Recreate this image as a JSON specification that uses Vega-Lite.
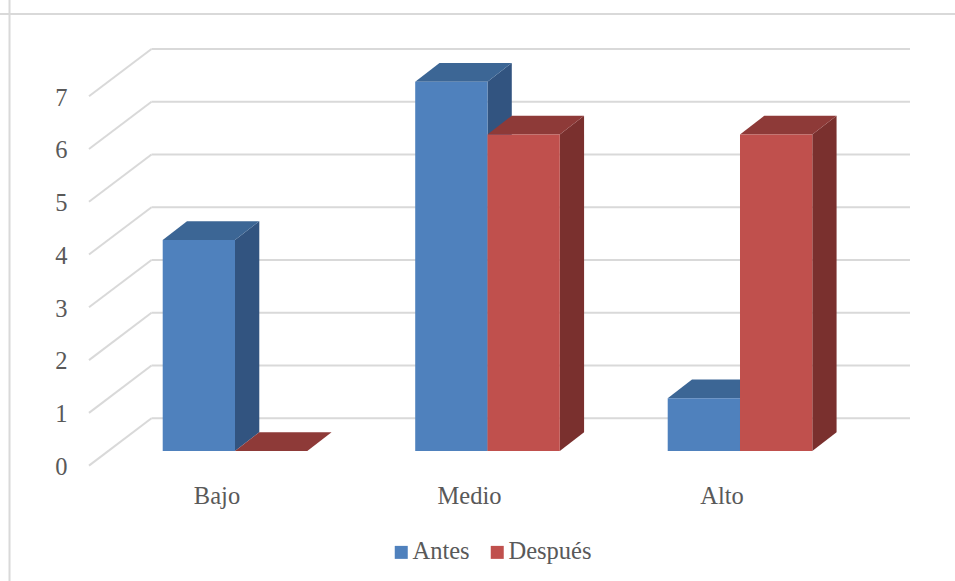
{
"$schema":"https://vega.github.io/schema/vega-lite/v6.json",
"width":955,"height":581,"padding":0,"autosize":{"type":"none"},
"background":"white",
"view":{"stroke":null},
"config":{"font":"Liberation Serif"},
"resolve":{"axis":{"x":"independent","y":"independent"}},
"data":{"values":[
{"categoria":"Bajo","serie":"Antes","valor":4},
{"categoria":"Bajo","serie":"Después","valor":0},
{"categoria":"Medio","serie":"Antes","valor":7},
{"categoria":"Medio","serie":"Después","valor":6},
{"categoria":"Alto","serie":"Antes","valor":1},
{"categoria":"Alto","serie":"Después","valor":6}
]},
"transform":[
{"calculate":"indexof(['Bajo','Medio','Alto'],datum.categoria)+(datum.serie==='Antes'?-0.2863:0)","as":"x0"},
{"calculate":"datum.x0+0.2863","as":"x1"}
],
"layer":[
{"data":{"values":[{"f":1}]},"mark":{"type":"rule","color":"#D9D9D9","strokeWidth":2},
 "encoding":{"x":{"datum":-0.893,"type":"quantitative","scale":{"domain":[-0.93069,2.85149],"nice":false,"zero":false},"axis":null}}},
{"data":{"values":[{"f":1}]},"mark":{"type":"rule","color":"#D9D9D9","strokeWidth":2},
 "encoding":{"y":{"datum":8.283,"type":"quantitative","scale":{"domain":[-2.46399,8.54814],"nice":false,"zero":false},"axis":null}}},
{"data":{"values":[{"v":0},{"v":1},{"v":2},{"v":3},{"v":4},{"v":5},{"v":6},{"v":7}]},
 "transform":[{"calculate":"datum.v+0.6198","as":"yb"},{"calculate":"datum.v-0.2767","as":"yf"},{"calculate":"-0.3307","as":"xb"},{"calculate":"2.6733","as":"xe"},{"calculate":"-0.5782","as":"xf"}],
 "layer":[
 {"mark":{"type":"rule","color":"#D9D9D9","strokeWidth":2},
  "encoding":{"x":{"field":"xb","type":"quantitative","scale":{"domain":[-0.93069,2.85149],"nice":false,"zero":false},"axis":null},"x2":{"field":"xe"},
  "y":{"field":"yb","type":"quantitative","scale":{"domain":[-2.46399,8.54814],"nice":false,"zero":false},"axis":null}}},
 {"mark":{"type":"rule","color":"#D9D9D9","strokeWidth":2},
  "encoding":{"x":{"field":"xf","type":"quantitative","scale":{"domain":[-0.93069,2.85149],"nice":false,"zero":false},"axis":null},"x2":{"field":"xb"},
  "y":{"field":"yf","type":"quantitative","scale":{"domain":[-2.46399,8.54814],"nice":false,"zero":false},"axis":null},"y2":{"field":"yb"}}}
 ]},
{"transform":[{"calculate":"[0,1]","as":"k"},{"flatten":["k"]},{"calculate":"datum.x1+datum.k*0.0962","as":"xs"},{"calculate":"datum.k*0.3544","as":"lo"},{"calculate":"datum.valor+datum.k*0.3544","as":"hi"}],
 "mark":{"type":"area","orient":"vertical"},
 "encoding":{"x":{"field":"xs","type":"quantitative","scale":{"domain":[-0.93069,2.85149],"nice":false,"zero":false},"axis":null},
 "y":{"field":"hi","type":"quantitative","stack":null,"scale":{"domain":[-2.46399,8.54814],"nice":false,"zero":false},"axis":null},"y2":{"field":"lo"},
 "detail":[{"field":"categoria"},{"field":"serie"}],
 "color":{"condition":{"test":"datum.serie==='Antes'","value":"#325480"},"value":"#7A302E"}}},
{"transform":[{"calculate":"[0,1,2,3]","as":"k"},{"flatten":["k"]},
 {"calculate":"[datum.x0,datum.x0+0.0962,datum.x1,datum.x1+0.0962][datum.k]","as":"xs"},
 {"calculate":"datum.valor+(datum.k===3?0.3544:0)","as":"lo"},
 {"calculate":"datum.valor+(datum.k===0?0:0.3544)","as":"hi"}],
 "mark":{"type":"area","orient":"vertical"},
 "encoding":{"x":{"field":"xs","type":"quantitative","scale":{"domain":[-0.93069,2.85149],"nice":false,"zero":false},"axis":null},
 "y":{"field":"hi","type":"quantitative","stack":null,"scale":{"domain":[-2.46399,8.54814],"nice":false,"zero":false},"axis":null},"y2":{"field":"lo"},
 "detail":[{"field":"categoria"},{"field":"serie"}],
 "color":{"condition":{"test":"datum.serie==='Antes'","value":"#3C6695"},"value":"#8E3A38"}}},
{"transform":[{"calculate":"0","as":"base"}],
 "mark":{"type":"rect"},
 "encoding":{
 "x":{"field":"x0","type":"quantitative","scale":{"domain":[-0.93069,2.85149],"nice":false,"zero":false},
  "axis":{"title":null,"orient":"bottom","offset":-78,"values":[0,1,2],"labelExpr":"['Bajo','Medio','Alto'][datum.value]","labelOffset":-18.5,"labelBaseline":"alphabetic","labelPadding":0,"ticks":false,"domain":false,"grid":false,"labelFontSize":24.5,"labelColor":"#595959","labelFont":"Liberation Serif","labelFlush":false,"labelOverlap":false}},
 "x2":{"field":"x1"},
 "y":{"field":"valor","type":"quantitative","scale":{"domain":[-2.46399,8.54814],"nice":false,"zero":false},
  "axis":{"title":null,"orient":"left","offset":-71,"values":[0,1,2,3,4,5,6,7],"labelOffset":16.5,"labelBaseline":"middle","labelAlign":"right","labelPadding":4,"ticks":false,"domain":false,"grid":false,"labelFontSize":24.5,"labelColor":"#595959","labelFont":"Liberation Serif","labelFlush":false,"labelOverlap":false}},
 "y2":{"field":"base"},
 "color":{"field":"serie","type":"nominal","scale":{"domain":["Antes","Después"],"range":["#4F81BD","#C0504D"]},
  "legend":{"title":null,"orient":"none","legendX":389,"legendY":540,"direction":"horizontal","columns":2,"symbolType":"square","symbolSize":169,"symbolStrokeWidth":0,"labelFontSize":24.5,"labelColor":"#595959","labelFont":"Liberation Serif","labelOffset":-1,"columnPadding":15,"padding":0}}}}
]
}
